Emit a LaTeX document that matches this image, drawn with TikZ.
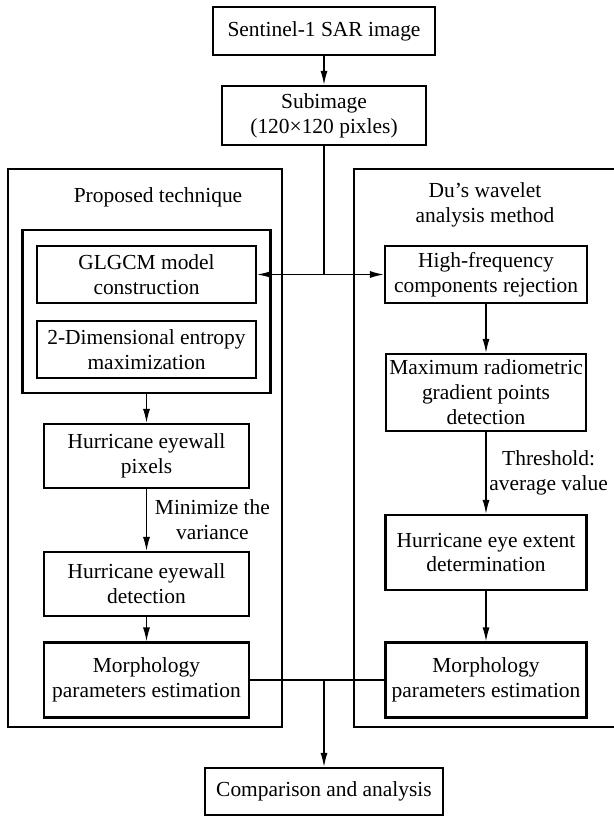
\documentclass[tikz,border=0pt]{standalone}
\usepackage{fontspec}
\setmainfont{Liberation Serif}
\usepackage{tikz}
\usetikzlibrary{arrows.meta}

\begin{document}
\begin{tikzpicture}[
        block/.style={
            rectangle,
            draw,
            line width=1.2pt,
            align=center,
            font=\fontsize{12.2pt}{14.2pt}\selectfont,
            inner sep=1pt
        },
        group/.style={
            rectangle,
            draw,
            line width=1.2pt,
            inner sep=0pt
        },
        frame/.style={
            line width=1.2pt
        },
        title/.style={
            align=center,
            font=\fontsize{12.2pt}{14.2pt}\selectfont,
            inner sep=1pt
        },
        arrow/.style={
            -{Latex[length=8pt,width=4pt]},
            line width=0.8pt
        },
        line/.style={
            line width=0.8pt
        }
    ]

        \useasboundingbox (0,0) rectangle (12.28,-16.32);

        \draw[frame] (0.16,-3.38) rectangle (5.64,-14.54);
        \draw[frame] (12.28,-3.38) -- (7.08,-3.38) -- (7.08,-14.54) -- (12.28,-14.54);

        \node[block, minimum width=4.44cm, minimum height=0.96cm] (sar) at (6.48,-0.62) {Sentinel-1 SAR image};
        \node[block, minimum width=4.08cm, minimum height=1.18cm] (sub) at (6.48,-2.31) {Subimage\\(120×120 pixles)};

        \node[title] (proposed) at (3.16,-3.94) {Proposed technique};
        \node[title] (du) at (9.70,-4.09) {Du's wavelet\\analysis method};

        \node[group, minimum width=4.96cm, minimum height=3.26cm] (glgroup) at (2.93,-6.23) {};
        \node[block, minimum width=4.38cm, minimum height=1.14cm] (glgcm) at (2.93,-5.49) {GLGCM model\\construction};
        \node[block, minimum width=4.38cm, minimum height=1.14cm] (entropy) at (2.93,-6.99) {2-Dimensional entropy\\maximization};

        \node[block, minimum width=4.10cm, minimum height=1.28cm] (pixels) at (2.93,-9.12) {Hurricane eyewall\\pixels};
        \node[block, minimum width=4.10cm, minimum height=1.28cm] (detect) at (2.93,-11.68) {Hurricane eyewall\\detection};
        \node[block, minimum width=4.10cm, minimum height=1.50cm] (morphL) at (2.93,-13.60) {Morphology\\parameters estimation};

        \node[block, minimum width=4.04cm, minimum height=1.14cm] (hf) at (9.72,-5.49) {High-frequency\\components rejection};
        \node[block, minimum width=4.00cm, minimum height=1.54cm] (mrg) at (9.72,-7.85) {Maximum radiometric\\gradient points\\detection};
        \node[block, minimum width=4.02cm, minimum height=1.50cm] (hee) at (9.72,-11.05) {Hurricane eye extent\\determination};
        \node[block, minimum width=4.02cm, minimum height=1.50cm] (morphR) at (9.72,-13.60) {Morphology\\parameters estimation};

        \node[block, minimum width=4.76cm, minimum height=0.94cm] (comp) at (6.48,-15.83) {Comparison and analysis};

        \coordinate (split) at (6.48,-5.49);
        \coordinate (merge) at (6.48,-13.60);

        \draw[arrow] (sar.south) -- (sub.north);
        \draw[line] (sub.south) -- (split);
        \draw[arrow] (split) -- (glgcm.east);
        \draw[arrow] (split) -- (hf.west);

        \draw[arrow] (glgroup.south) -- (pixels.north);
        \draw[arrow] (pixels.south) -- node[title, right, xshift=0.12cm] (minvar) {Minimize the\\variance} (detect.north);
        \draw[arrow] (detect.south) -- (morphL.north);

        \draw[arrow] (hf.south) -- (mrg.north);
        \draw[arrow] (mrg.south) -- node[title, right, xshift=0.02cm] (thresh) {Threshold:\\average value} (hee.north);
        \draw[arrow] (hee.south) -- (morphR.north);

        \draw[line] (morphL.east) -- (morphR.west);
        \draw[arrow] (merge) -- (comp.north);

    \end{tikzpicture}
\end{document}
